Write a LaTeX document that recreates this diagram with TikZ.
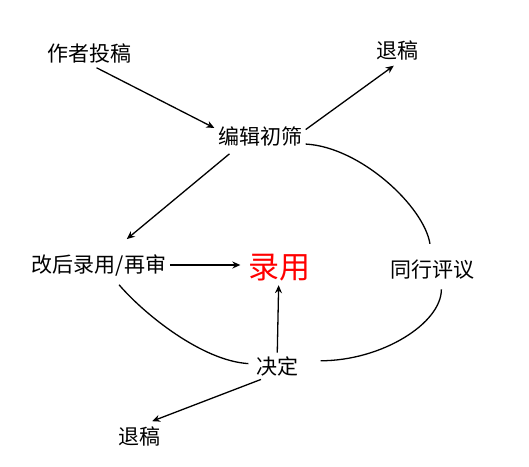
\documentclass[tikz,border=0pt]{standalone}
\usepackage{fontspec}
\usepackage{xcolor}
\usetikzlibrary{arrows.meta,positioning}
\newfontfamily\cjk{Noto Sans CJK SC}

\begin{document}
\begin{tikzpicture}[x=1pt,y=-1pt,line width=1.3pt,
   lbl/.style={font=\cjk\fontsize{21}{25}\selectfont,inner sep=3pt},
   arr/.style={-{Stealth[length=8pt,width=7pt]}}]
  \useasboundingbox (0,0) rectangle (529,466);
  \node[lbl] (au) at (89,53) {作者投稿};
  \node[lbl] (rj1) at (397,50) {退稿};
  \node[lbl] (ed) at (260,136) {编辑初筛};
  \node[lbl] (rv) at (99,265) {改后录用/再审};
  \node[lbl,font=\cjk\fontsize{31}{36}\selectfont,text=red] (ac) at (279,268) {录用};
  \node[lbl] (pr) at (432,270) {同行评议};
  \node[lbl] (dc) at (277,366) {决定};
  \node[lbl] (rj2) at (139,436) {退稿};
  % arrows
  \draw[arr,shorten <=3pt] (au.-70) -- (ed.170);
  \draw[arr,shorten >=4pt] (ed.8) -- (rj1.south);
  \draw[arr,shorten <=7pt,shorten >=18pt] (ed.-152) -- (rv.46);
  \draw[arr,shorten >=4pt] (rv.east) -- (rv.east -| ac.west);
  \draw[arr] (dc) -- (ac);
  \draw[arr,shorten >=4pt] (dc.220) -- (rj2.55);
  % review loop
  \draw[shorten >=13pt] (ed.-10) .. controls +(55,3) and +(-8,-50) .. (pr.north);
  \draw[shorten <=6pt,shorten >=19pt] (pr.-55) .. controls +(0,40) and +(80,0) .. (dc.12);
  \draw[shorten <=7pt,shorten >=4pt] (rv.-43) .. controls +(30,35) and +(-50,-3) .. (dc.175);
\end{tikzpicture}
\end{document}
